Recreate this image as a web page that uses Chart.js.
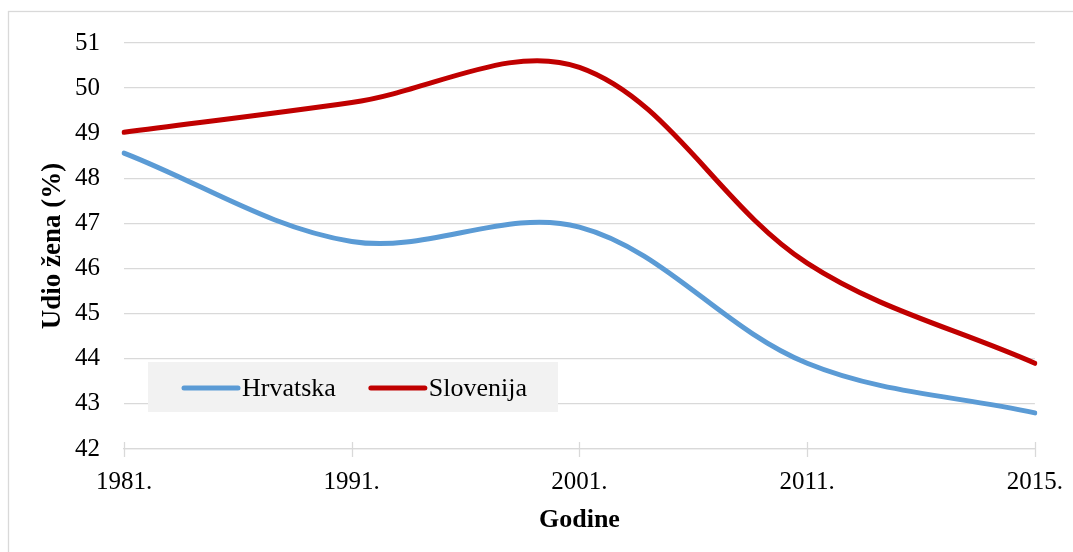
<!DOCTYPE html>
<html lang="hr">

<head>
  <meta charset="UTF-8" />
  <title>Udio žena</title>
  <script src="https://cdn.jsdelivr.net/npm/chart.js"></script>
  <style>
    html,
    body {
      margin: 0;
      padding: 0;
      background: #fff;
    }

    .chart-wrapper {
      width: 1073px;
      height: 552px;
    }
  </style>
</head>

<body>
  <div class="chart-wrapper"><canvas id="chart"></canvas></div>

  <script>
    const years = ["1981.", "1991.", "2001.", "2011.", "2015."];
    const hrvatska = [48.56, 46.6, 46.92, 43.9, 42.8];
    const slovenija = [49.02, 49.68, 50.46, 46.12, 43.9];
    const seriesNames = ["Hrvatska", "Slovenija"];
    const seriesColors = ["#5b9bd5", "#c00000"];

    const gridColor = "#d9d9d9";
    const serif = "'Liberation Serif', 'Times New Roman', serif";

    // outer frame (only left/top visible) + cross tick marks on the x axis
    const framePlugin = {
      id: "frame",
      beforeDraw(chart) {
        const ctx = chart.ctx;
        ctx.save();
        ctx.strokeStyle = gridColor;
        ctx.lineWidth = 1.3;
        ctx.strokeRect(8.5, 11.5, 1200, 700);
        ctx.restore();
      },
      afterDraw(chart) {
        const ctx = chart.ctx;
        const x = chart.scales.x;
        const y0 = chart.chartArea.bottom;
        ctx.save();
        ctx.strokeStyle = gridColor;
        ctx.lineWidth = 1.3;
        x.ticks.forEach((t, i) => {
          const px = Math.round(x.getPixelForTick(i)) + 0.5;
          ctx.beginPath();
          ctx.moveTo(px, y0 - 7);
          ctx.lineTo(px, y0 + 8);
          ctx.stroke();
        });
        ctx.restore();
      },
    };

    // legend in a grey box inside the plot
    const boxLegend = {
      id: "boxLegend",
      afterDraw(chart) {
        const ctx = chart.ctx;
        const area = chart.chartArea;
        const left = area.left + 24;
        const top = area.top + 319;
        ctx.save();
        ctx.fillStyle = "#f2f2f2";
        ctx.fillRect(left, top, 410, 50);
        ctx.font = "26px " + serif;
        ctx.textBaseline = "middle";
        ctx.fillStyle = "#000";
        const cy = top + 26;
        let x = left + 36;
        chart.data.datasets.forEach((ds) => {
          ctx.strokeStyle = ds.borderColor;
          ctx.lineWidth = 5;
          ctx.lineCap = "round";
          ctx.beginPath();
          ctx.moveTo(x, cy);
          ctx.lineTo(x + 54, cy);
          ctx.stroke();
          ctx.fillText(ds.label, x + 58, cy + 1);
          x += 58 + ctx.measureText(ds.label).width + 35;
        });
        ctx.restore();
      },
    };

    new Chart(document.getElementById("chart"), {
      type: "line",
      data: {
        labels: years,
        datasets: [
          {
            label: seriesNames[0],
            data: hrvatska,
            borderColor: seriesColors[0],
            borderWidth: 5,
            pointRadius: 0,
            tension: 0.35,
            borderCapStyle: "round",
          },
          {
            label: seriesNames[1],
            data: slovenija,
            borderColor: seriesColors[1],
            borderWidth: 5,
            pointRadius: 0,
            tension: 0.35,
            borderCapStyle: "round",
          },
        ],
      },
      options: {
        animation: false,
        responsive: true,
        maintainAspectRatio: false,
        layout: { padding: { top: 43, right: 37, left: 0, bottom: 0 } },
        plugins: {
          legend: { display: false },
          tooltip: { enabled: false },
        },
        scales: {
          x: {
            offset: false,
            grid: { display: false },
            border: { display: true, color: gridColor, width: 1.3 },
            ticks: {
              color: "#000",
              padding: 10,
              maxRotation: 0,
              font: { family: serif, size: 25 },
            },
            title: {
              display: true,
              text: "Godine",
              color: "#000",
              font: { family: serif, size: 26, weight: "bold" },
              padding: { top: 0, bottom: 16 },
            },
            afterFit: (s) => { s.height = 103; },
          },
          y: {
            min: 42,
            max: 51,
            border: { display: false },
            grid: { color: gridColor, lineWidth: 1.3, drawTicks: false },
            ticks: {
              stepSize: 1,
              color: "#000",
              padding: 24,
              font: { family: serif, size: 25 },
            },
            title: {
              display: true,
              text: "Udio žena (%)",
              color: "#000",
              font: { family: serif, size: 27, weight: "bold" },
              padding: { top: 37, bottom: 0 },
            },
            afterFit: (s) => { s.width = 124; },
          },
        },
      },
      plugins: [framePlugin, boxLegend],
    });
  </script>
</body>

</html>
